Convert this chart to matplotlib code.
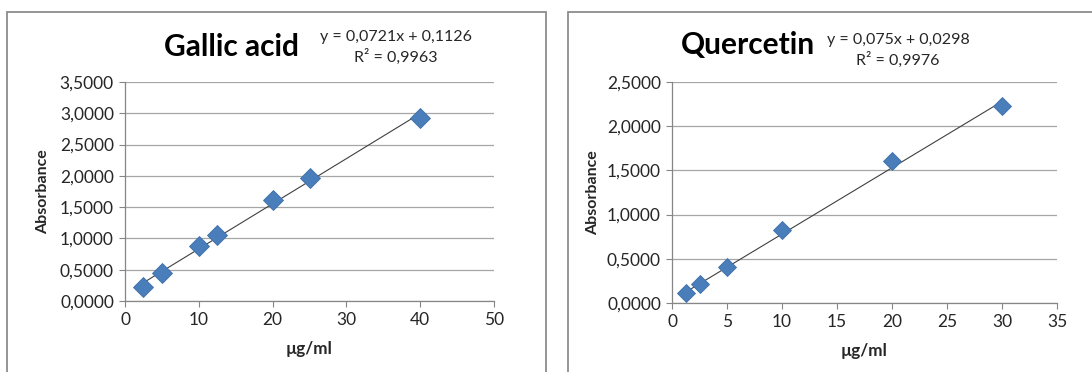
import numpy as np
import matplotlib.pyplot as plt
from matplotlib.patches import Rectangle

plt.rcParams['font.family'] = ['Lato', 'DejaVu Sans']

# Gallic acid calibration
gallic_conc = [2.5, 5, 10, 12.5, 20, 25, 40]
gallic_abs = [0.229, 0.443, 0.880, 1.056, 1.617, 1.963, 2.924]
gallic_slope, gallic_icpt, gallic_r2 = 0.0721, 0.1126, 0.9963

# Quercetin calibration
querc_conc = [1.25, 2.5, 5, 10, 20, 30]
querc_abs = [0.113, 0.219, 0.408, 0.823, 1.609, 2.228]
querc_slope, querc_icpt, querc_r2 = 0.075, 0.0298, 0.9976

BLUE = '#4a7ebb'
GRID = '#a6a6a6'
AXIS = '#868686'
TXT = '#262626'


def fmt_comma(v, digits):
    return f'{v:.{digits}f}'.replace('.', ',')


def draw_panel(ax, x, y, slope, icpt, xlim, xticks, ylim, yticks, msize, ylpad):
    ax.set_xlim(*xlim)
    ax.set_ylim(*ylim)
    ax.set_xticks(xticks)
    ax.set_yticks(yticks)
    ax.set_xticklabels([str(t) for t in xticks])
    ax.set_yticklabels([fmt_comma(t, 4) for t in yticks])

    # trendline over the data range
    xs = np.array([min(x), max(x)])
    ax.plot(xs, slope * xs + icpt, color='#404040', lw=0.8, zorder=3)
    ax.plot(x, y, 'D', color=BLUE, markersize=msize, markeredgecolor='#3e6fa8',
            markeredgewidth=0.6, zorder=4, clip_on=False)

    ax.grid(axis='y', color=GRID, lw=0.9)
    ax.set_axisbelow(True)
    for s in ['top', 'right']:
        ax.spines[s].set_visible(False)
    for s in ['left', 'bottom']:
        ax.spines[s].set_color(AXIS)
        ax.spines[s].set_linewidth(0.9)
    ax.tick_params(direction='out', length=4, color=AXIS, labelsize=12.5,
                   labelcolor=TXT, pad=4)
    ax.set_xlabel('µg/ml', fontsize=12.3, fontweight='bold', color=TXT, labelpad=9)
    ax.set_ylabel('Absorbance', fontsize=11.5, fontweight='bold', color=TXT, labelpad=ylpad)


fig = plt.figure(figsize=(10.92, 3.72), dpi=100)

# panel frames
fig.patches.append(Rectangle((7 / 1092, -0.05), (546 - 7) / 1092, 1 - 12 / 372 + 0.05,
                             transform=fig.transFigure, fill=False,
                             edgecolor='#8c8c8c', lw=1.3))
fig.patches.append(Rectangle((568 / 1092, -0.05), 0.5, 1 - 12 / 372 + 0.05,
                             transform=fig.transFigure, fill=False,
                             edgecolor='#8c8c8c', lw=1.3))

ax1 = fig.add_axes([0.1145, 0.1909, 0.3379, 0.5887])
draw_panel(ax1, gallic_conc, gallic_abs, gallic_slope, gallic_icpt,
           (0, 50), [0, 10, 20, 30, 40, 50], (0, 3.5),
           [0, 0.5, 1.0, 1.5, 2.0, 2.5, 3.0, 3.5], 10.5, 7)

ax2 = fig.add_axes([0.6154, 0.1855, 0.3526, 0.5941])
draw_panel(ax2, querc_conc, querc_abs, querc_slope, querc_icpt,
           (0, 35), [0, 5, 10, 15, 20, 25, 30, 35], (0, 2.5),
           [0, 0.5, 1.0, 1.5, 2.0, 2.5], 9.5, 5)

# titles and equations
fig.text(231 / 1092, 1 - 47 / 372, 'Gallic acid', fontsize=21.5, fontweight='bold',
         ha='center', va='center', color='black')
fig.text(396 / 1092, 1 - 37 / 372, 'y = ' + fmt_comma(gallic_slope, 4) + 'x + ' + fmt_comma(gallic_icpt, 4),
         fontsize=11.5, ha='center', va='center', color=TXT)
fig.text(396 / 1092, 1 - 57 / 372, 'R² = ' + fmt_comma(gallic_r2, 4),
         fontsize=11.5, ha='center', va='center', color=TXT)

fig.text(748 / 1092, 1 - 45 / 372, 'Quercetin', fontsize=21.5, fontweight='bold',
         ha='center', va='center', color='black')
fig.text(898 / 1092, 1 - 40 / 372, 'y = ' + fmt_comma(querc_slope, 3) + 'x + ' + fmt_comma(querc_icpt, 4),
         fontsize=11.5, ha='center', va='center', color=TXT)
fig.text(898 / 1092, 1 - 60 / 372, 'R² = ' + fmt_comma(querc_r2, 4),
         fontsize=11.5, ha='center', va='center', color=TXT)

fig.savefig('out.png', dpi=100, facecolor='white')
